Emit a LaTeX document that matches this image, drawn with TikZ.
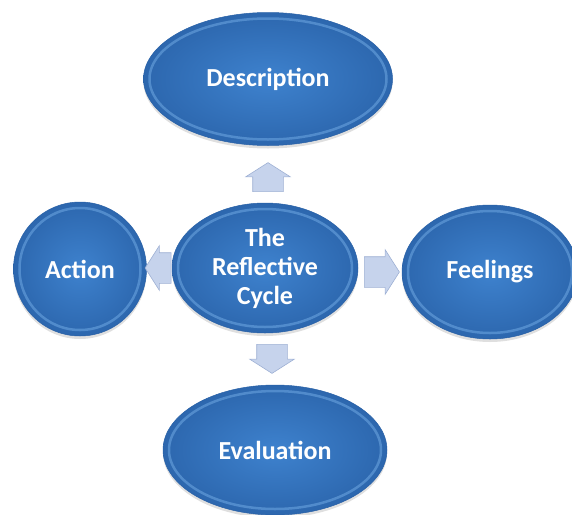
\documentclass[tikz,border=0pt]{standalone}
\usepackage{fontspec}
\setmainfont{Carlito}
\usetikzlibrary{calc,shapes.geometric,shapes.arrows,shadows}

\definecolor{stageblue}{RGB}{62,130,206}
\definecolor{stagedark}{RGB}{40,96,166}
\definecolor{stagerim}{RGB}{125,182,238}
\definecolor{pointerfill}{RGB}{198,211,236}
\definecolor{pointerline}{RGB}{158,176,212}

\begin{document}
\begin{tikzpicture}[x=1pt, y=-1pt,
    stage/.style={ellipse, inner sep=0pt, draw=stagedark, line width=0.5pt,
      inner color=stageblue, outer color=stagedark!80!stageblue,
      text=white, align=center, font=\bfseries\fontsize{26}{29}\selectfont,
      drop shadow={opacity=0.25, shadow xshift=0pt, shadow yshift=-3pt},
      path picture={
        \draw[stagerim, line width=2.5pt, opacity=0.45]
          let \p1=(path picture bounding box.north east),
              \p2=(path picture bounding box.south west) in
          (path picture bounding box.center)
          ellipse [x radius={(\x1-\x2)/2-6pt}, y radius={(\y1-\y2)/2-6pt}];
      }},
    pointer/.style={single arrow, inner xsep=0pt, inner ysep=15pt,
      single arrow head extend=7pt, single arrow tip angle=115,
      fill=pointerfill, draw=pointerline, line width=0.6pt}
  ]
  \useasboundingbox (0,0) rectangle (572,514);

  \node[stage, minimum width=249pt, minimum height=133pt] (description) at (268,79) {Description};
  \node[stage, minimum width=186pt, minimum height=130pt] (cycle) at (265,268) {The\\ Reflective\\ Cycle};
  \node[stage, minimum width=133pt, minimum height=134pt] (action) at (80,269) {Action};
  \node[stage, minimum width=176pt, minimum height=134pt] (feelings) at (490,272) {Feelings};
  \node[stage, minimum width=224pt, minimum height=130pt] (evaluation) at (275,450) {Evaluation};

  % block arrows between the middle and the four stages
  \node[pointer, minimum height=29pt, rotate=90] (toup) at (268,182) {};
  \node[pointer, minimum height=26pt, rotate=180] (toleft) at (163,268) {};
  \node[pointer, minimum height=35pt] (toright) at (377,272) {};
  \node[pointer, minimum height=29pt, rotate=270] (todown) at (272,354) {};
\end{tikzpicture}
\end{document}
